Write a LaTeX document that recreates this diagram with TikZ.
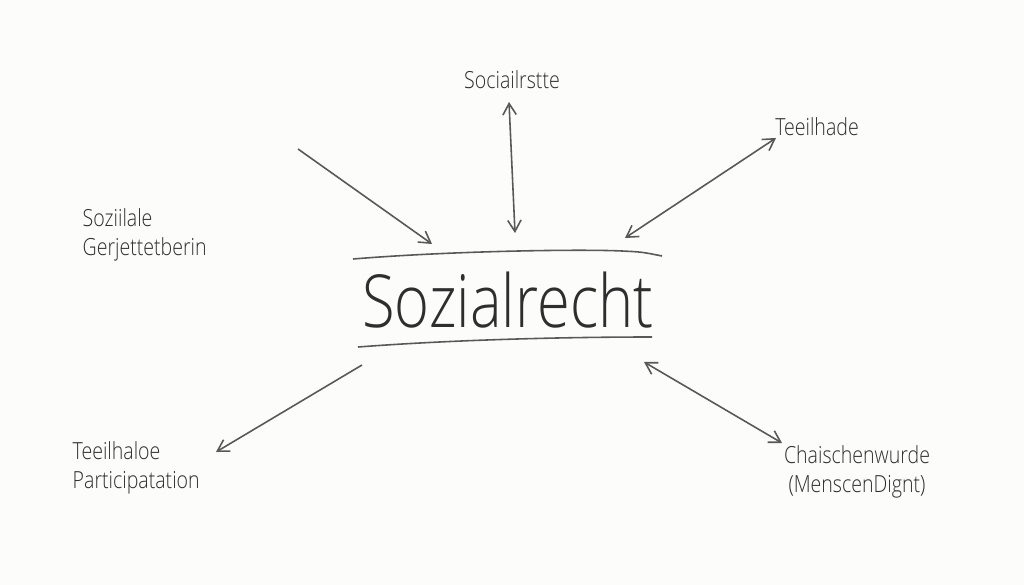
\documentclass[tikz,border=0pt]{standalone}
\usepackage{fontspec}
\newfontfamily\handfont{Open Sans Light}[FakeStretch=0.83]
\newfontfamily\thinfont{Open Sans Light}[FakeStretch=0.815]
\usetikzlibrary{arrows.meta,positioning}
\definecolor{ink}{HTML}{2E2E2E}
\definecolor{paper}{HTML}{FCFCFB}
\tikzset{
  lbl/.style={font=\handfont\fontsize{6.7}{8.2}\selectfont,text=ink,inner sep=0pt},
  title/.style={font=\thinfont\fontsize{20.8}{24}\selectfont,text=ink,inner sep=0pt},
  link/.style={draw=ink!80,line width=0.45pt},
  tip/.style={-{Straight Barb[length=3.2pt,width=3.8pt]}},
  tips/.style={{Straight Barb[length=3.2pt,width=3.8pt]}-{Straight Barb[length=3.2pt,width=3.8pt]}},
}
\begin{document}
\begin{tikzpicture}[x=0.01cm,y=-0.01cm]
%paper
\fill[paper](0,0)rectangle(1024,585);
\useasboundingbox(0,0)rectangle(1024,585);
%centre
\node[title](soz)at(508,300){Sozialrecht};
\draw[link](353,259)..controls(450,251)and(580,249)..(622,251)..controls(642,252)..(662,256);
\draw[link](358,347)..controls(450,340)and(560,337)..(652,337);
%labels
\node[lbl](rat)at(512,80){Sociailrstte};
\node[lbl](teil)at(817,127){Teeilhade};
\node[lbl,align=left,anchor=west](ger)at(82,235){Soziilale\\Gerjettetberin};
\node[lbl,align=left,anchor=west](part)at(72,468){Teeilhaloe\\Participatation};
\node[lbl,align=center](wuerde)at(857,472){Chaischenwurde\\(MenscenDignt)};
%arrow ends
\coordinate(gerA)at(298,149);
\coordinate(sozNW)at(432,244);
\coordinate(ratA)at(509,102);
\coordinate(sozN)at(515,233);
\coordinate(teilA)at(776,138);
\coordinate(sozNE)at(625,238);
\coordinate(sozSW)at(362,365);
\coordinate(partA)at(216,452);
\coordinate(sozSE)at(644,362);
\coordinate(wuerdeA)at(782,443);
%arrows
\draw[link,tip](gerA)--(sozNW);
\draw[link,tips](ratA)--(sozN);
\draw[link,tips](teilA)--(sozNE);
\draw[link,tip](sozSW)--(partA);
\draw[link,tips](sozSE)--(wuerdeA);
\end{tikzpicture}
\end{document}
